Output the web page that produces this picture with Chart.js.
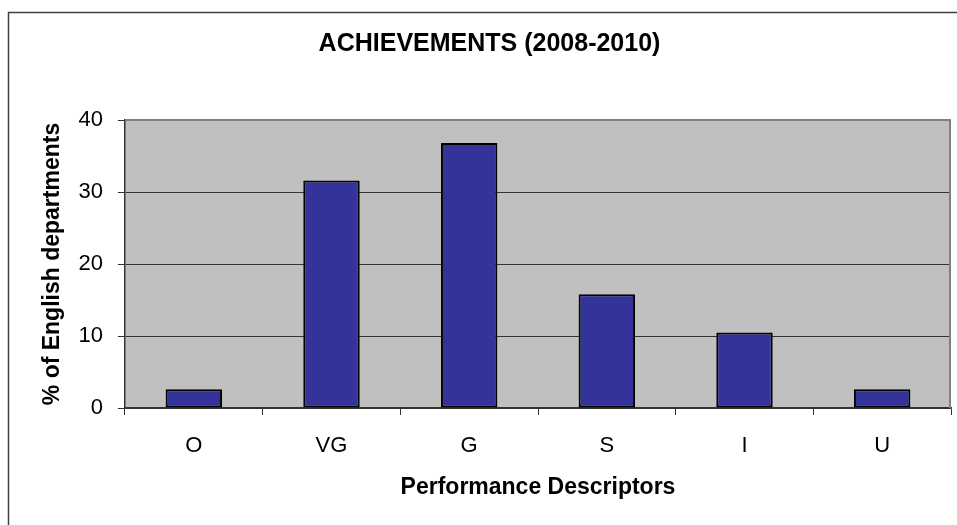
<!DOCTYPE html>
<html>
<head>
<meta charset="utf-8">
<script src="https://cdn.jsdelivr.net/npm/chart.js@4.4.1/dist/chart.umd.min.js"></script>
<style>
  html, body { margin: 0; padding: 0; background: #fff; }
  #wrap { width: 957px; height: 525px; }
</style>
</head>
<body>
<div id="wrap"><canvas id="achChart" width="957" height="525"></canvas></div>
<script>
// chart data
const descriptors = ["O", "VG", "G", "S", "I", "U"];
const percentDepts = [2.6, 31.6, 36.8, 15.8, 10.5, 2.6];
const yTicks = [0, 10, 20, 30, 40];

const FONT = "'Liberation Sans', Arial, sans-serif";

// grey plot area + chart frame
const plotBg = {
    id: "plotBg",
    beforeDraw(chart) {
        const { ctx, chartArea: a } = chart;
        ctx.save();
        ctx.fillStyle = "#fff";
        ctx.fillRect(0, 0, chart.width, chart.height);
        ctx.fillStyle = "#C0C0C0";
        ctx.fillRect(a.left, a.top, a.right - a.left, a.bottom - a.top);
        // outer frame (only left and top are inside the picture)
        ctx.strokeStyle = "#404040";
        ctx.lineWidth = 1.5;
        ctx.beginPath();
        ctx.moveTo(8.5, chart.height);
        ctx.lineTo(8.5, 12.5);
        ctx.lineTo(chart.width, 12.5);
        ctx.stroke();
        ctx.restore();
    },
    afterDraw(chart) {
        const { ctx, chartArea: a } = chart;
        ctx.save();
        ctx.strokeStyle = "#808080";
        ctx.lineWidth = 2;
        ctx.beginPath();
        ctx.moveTo(a.left, a.top);
        ctx.lineTo(a.right - 1, a.top);
        ctx.lineTo(a.right - 1, a.bottom);
        ctx.stroke();
        ctx.restore();
    }
};

new Chart(document.getElementById("achChart"), {
    type: "bar",
    data: {
        labels: descriptors,
        datasets: [{
            data: percentDepts,
            backgroundColor: "#333399",
            borderColor: "#000",
            borderWidth: 2,
            borderSkipped: false,
            barPercentage: 0.41,
            categoryPercentage: 1
        }]
    },
    options: {
        responsive: false,
        animation: false,
        layout: { padding: { left: 28, right: 6, top: 0, bottom: 0 } },
        plugins: {
            legend: { display: false },
            tooltip: { enabled: false },
            title: {
                display: true,
                text: "ACHIEVEMENTS (2008-2010)",
                color: "#000",
                font: { family: FONT, size: 25, weight: "bold" },
                padding: { top: 29, bottom: 61 }
            }
        },
        scales: {
            x: {
                afterFit: s => { s.height = 117; },
                grid: { drawOnChartArea: false, color: "#333", tickLength: 7, offset: true },
                border: { color: "#333", width: 1.5 },
                ticks: { color: "#000", padding: 18, font: { family: FONT, size: 22 } },
                title: {
                    display: true,
                    text: "Performance Descriptors",
                    color: "#000",
                    font: { family: FONT, size: 23, weight: "bold" },
                    padding: { top: 0, bottom: 24 }
                }
            },
            y: {
                min: 0,
                max: 40,
                afterFit: s => { s.width = 97; },
                afterBuildTicks: s => { s.ticks = yTicks.map(v => ({ value: v })); },
                grid: { color: "#333", tickColor: "#333", tickLength: 7 },
                border: { color: "#333", width: 1.5 },
                ticks: { color: "#000", padding: 15, font: { family: FONT, size: 22 } },
                title: {
                    display: true,
                    text: "% of English departments",
                    color: "#000",
                    font: { family: FONT, size: 23, weight: "bold" },
                    padding: { top: 11, bottom: 0 }
                }
            }
        }
    },
    plugins: [plotBg]
});
</script>
</body>
</html>
